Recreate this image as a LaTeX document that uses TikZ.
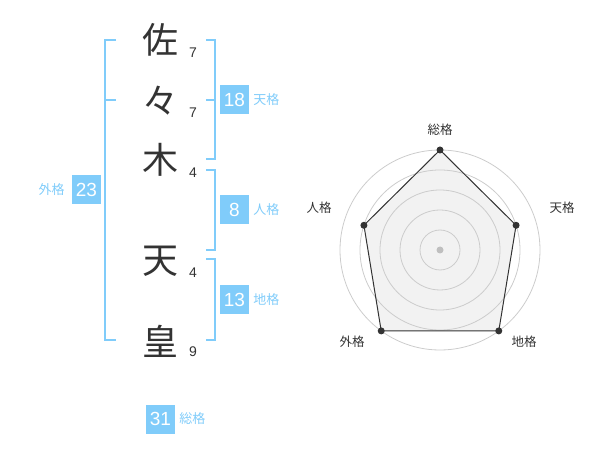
\documentclass[tikz,border=0pt]{standalone}
\usepackage{fontspec}
\setmainfont{Liberation Sans}
\newfontfamily\jp{Noto Sans CJK JP}
\usetikzlibrary{positioning}
\definecolor{kaku}{RGB}{128,204,250}
\definecolor{ink}{RGB}{51,51,51}
\tikzset{
  kanji/.style={font=\jp\fontsize{36}{36}\selectfont,text=ink,inner sep=0pt},
  kakusu/.style={font=\fontsize{14}{14}\selectfont,text=ink,inner sep=0pt},
  numbox/.style={fill=kaku,text=white,minimum width=29pt,minimum height=29pt,inner sep=0pt,font=\fontsize{19}{19}\selectfont},
  kakuname/.style={font=\jp\fontsize{13}{13}\selectfont,text=kaku,inner sep=0pt},
  bracket/.style={draw=kaku,line width=2pt},
  ring/.style={draw=black!20,line width=0.8pt},
  axisname/.style={font=\jp\fontsize{12.5}{12.5}\selectfont,text=ink,inner sep=0pt}
}
\begin{document}
\begin{tikzpicture}[x=1pt,y=-1pt]
\useasboundingbox (0,0) rectangle (600,470);
% name, one character per slot
\node[kanji] (c1) at (160,40) {佐};
\node[kanji] (c2) at (160,101) {々};
\node[kanji] (c3) at (160,160) {木};
\node[kanji] (c4) at (160,261) {天};
\node[kanji] (c5) at (160,341) {皇};
% strokes
\node[kakusu] (k1) at (193,53) {7};
\node[kakusu] (k2) at (193,113) {7};
\node[kakusu] (k3) at (193,173) {4};
\node[kakusu] (k4) at (193,273) {4};
\node[kakusu] (k5) at (193,352) {9};
% brackets
\draw[bracket] (116,40) -- (105,40) -- (105,340) -- (116,340);
\draw[bracket] (105,100) -- (116,100);
\draw[bracket] (206,40) -- (215,40) -- (215,159) -- (206,159);
\draw[bracket] (206,100) -- (215,100);
\draw[bracket] (206,170) -- (215,170) -- (215,250) -- (206,250);
\draw[bracket] (206,259) -- (215,259) -- (215,340) -- (206,340);
% scores
\node[numbox] (ten) at (234.5,100) {18};
\node[kakuname,right=4pt of ten] (tenl) {天格};
\node[numbox] (jin) at (234.5,210) {8};
\node[kakuname,right=4pt of jin] (jinl) {人格};
\node[numbox] (chi) at (234.5,300) {13};
\node[kakuname,right=4pt of chi] (chil) {地格};
\node[numbox] (gai) at (86.5,190) {23};
\node[kakuname,left=7pt of gai] (gail) {外格};
\node[numbox] (sou) at (160.5,419) {31};
\node[kakuname,right=4pt of sou] (soul) {総格};
% radar
\coordinate (o) at (440,250);
\foreach \a/\r/\n in {-90/100/s,-18/80/t,54/100/c,126/100/g,198/80/j}
  \coordinate (p\n) at ([shift={(\a:\r)}]o);
\fill[black!5] (ps) -- (pt) -- (pc) -- (pg) -- (pj) -- cycle;
\foreach \r in {20,40,...,100}
  \draw[ring] (o) circle (\r);
\draw[ink,line width=1pt] (ps) -- (pt) -- (pc) -- (pg) -- (pj) -- cycle;
\foreach \n in {s,t,c,g,j}
  \fill[ink] (p\n) circle (3.5);
\fill[black!25] (o) circle (3.5);
\node[axisname] (as) at (440,130) {総格};
\node[axisname] (at) at (562,208) {天格};
\node[axisname] (ac) at (524,342) {地格};
\node[axisname] (ag) at (352,342) {外格};
\node[axisname] (aj) at (319,208) {人格};
\end{tikzpicture}
\end{document}
